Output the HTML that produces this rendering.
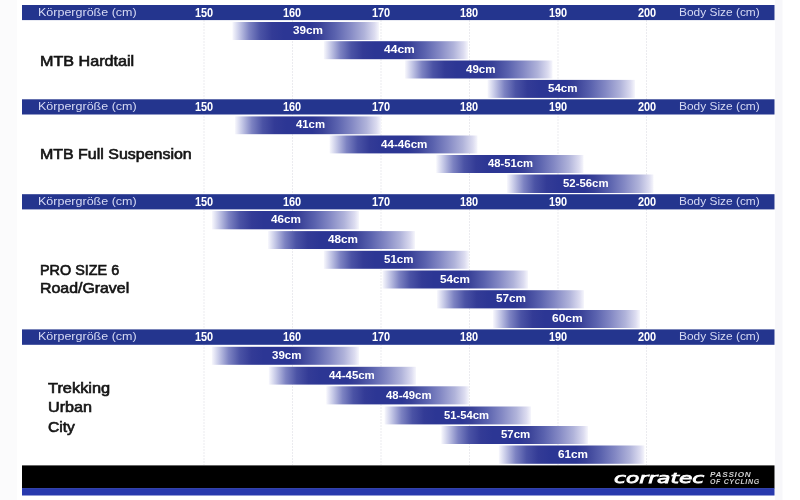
<!DOCTYPE html>
<html lang="de"><head><meta charset="utf-8"><title>corratec Body Size</title>
<style>
html,body{margin:0;padding:0;background:#fff}
body{width:800px;height:500px;position:relative;overflow:hidden;font-family:"Liberation Sans",sans-serif}
.a{position:absolute}
.ht{color:#d6daf4;font-size:11.6px;line-height:15px;white-space:nowrap;transform-origin:0 50%}
.hn{color:#fff;font-weight:bold;font-size:12px;line-height:15px;width:40px;text-align:center;white-space:nowrap;transform:scaleX(.91)}
.bt{color:#fff;font-weight:bold;font-size:11.6px;line-height:18px;white-space:nowrap;transform-origin:0 50%}
.lb{color:#151515;font-size:15px;line-height:18px;white-space:nowrap;transform-origin:0 100%;-webkit-text-stroke:.65px #151515}
.logo{color:#fff;font-family:"DejaVu Sans","Liberation Sans",sans-serif;font-weight:normal;font-style:italic;-webkit-text-stroke:.75px #fff;white-space:nowrap;transform-origin:0 100%}
.pas{color:#cfcfcf;font-style:italic;font-weight:bold;white-space:nowrap;transform-origin:0 100%;font-size:6.5px;line-height:7px;letter-spacing:.6px}
</style></head><body>
<svg class="a" style="left:0;top:0" width="800" height="500" viewBox="0 0 800 500">
<defs><linearGradient id="g" x1="0" y1="0" x2="1" y2="0"><stop offset="0" stop-color="#f8f8fd"/><stop offset="0.045" stop-color="#c8cbe8"/><stop offset="0.115" stop-color="#7d83c2"/><stop offset="0.19" stop-color="#4b53a5"/><stop offset="0.27" stop-color="#333b96"/><stop offset="0.35" stop-color="#2c3694"/><stop offset="0.53" stop-color="#2c3694"/><stop offset="0.6" stop-color="#3a4298"/><stop offset="0.7" stop-color="#5a62ae"/><stop offset="0.8" stop-color="#8388c4"/><stop offset="0.9" stop-color="#b0b3da"/><stop offset="0.97" stop-color="#dcdcf0"/><stop offset="1" stop-color="#f6f6fc"/></linearGradient></defs>
<rect x="0" y="0" width="17" height="500" fill="#fbfbfc"/><rect x="775" y="0" width="7.5" height="500" fill="#f7f7fa"/>
<line x1="204.0" y1="20.5" x2="204.0" y2="465" stroke="#d6d6de" stroke-width="1" stroke-dasharray="1 2"/>
<line x1="292.5" y1="20.5" x2="292.5" y2="465" stroke="#d6d6de" stroke-width="1" stroke-dasharray="1 2"/>
<line x1="381.0" y1="20.5" x2="381.0" y2="465" stroke="#d6d6de" stroke-width="1" stroke-dasharray="1 2"/>
<line x1="469.5" y1="20.5" x2="469.5" y2="465" stroke="#d6d6de" stroke-width="1" stroke-dasharray="1 2"/>
<line x1="558.0" y1="20.5" x2="558.0" y2="465" stroke="#d6d6de" stroke-width="1" stroke-dasharray="1 2"/>
<line x1="646.5" y1="20.5" x2="646.5" y2="465" stroke="#d6d6de" stroke-width="1" stroke-dasharray="1 2"/>
<rect x="232.4" y="22.0" width="146.6" height="18.0" fill="url(#g)"/>
<rect x="323.8" y="41.2" width="144.2" height="18.0" fill="url(#g)"/>
<rect x="405.0" y="60.5" width="147.5" height="18.0" fill="url(#g)"/>
<rect x="487.5" y="79.9" width="147.5" height="18.0" fill="url(#g)"/>
<rect x="235.0" y="116.4" width="146.0" height="17.8" fill="url(#g)"/>
<rect x="329.5" y="135.5" width="148.0" height="17.9" fill="url(#g)"/>
<rect x="436.2" y="155.0" width="147.3" height="18.0" fill="url(#g)"/>
<rect x="507.0" y="174.5" width="146.5" height="18.5" fill="url(#g)"/>
<rect x="212.0" y="211.0" width="147.0" height="18.3" fill="url(#g)"/>
<rect x="268.0" y="231.1" width="147.0" height="17.9" fill="url(#g)"/>
<rect x="323.8" y="250.8" width="145.2" height="18.0" fill="url(#g)"/>
<rect x="382.5" y="270.5" width="145.5" height="18.0" fill="url(#g)"/>
<rect x="437.0" y="290.2" width="147.0" height="18.2" fill="url(#g)"/>
<rect x="493.0" y="310.0" width="147.0" height="18.0" fill="url(#g)"/>
<rect x="211.8" y="346.8" width="147.2" height="18.0" fill="url(#g)"/>
<rect x="268.8" y="366.8" width="147.2" height="17.8" fill="url(#g)"/>
<rect x="326.2" y="386.3" width="142.8" height="18.1" fill="url(#g)"/>
<rect x="384.5" y="406.5" width="146.5" height="17.9" fill="url(#g)"/>
<rect x="441.2" y="426.0" width="146.8" height="18.0" fill="url(#g)"/>
<rect x="498.8" y="445.5" width="145.7" height="18.3" fill="url(#g)"/>
<rect x="22" y="5.0" width="752.5" height="15.1" fill="#24358e"/>
<rect x="22" y="99.3" width="752.5" height="15.2" fill="#24358e"/>
<rect x="22" y="194.2" width="752.5" height="15.2" fill="#24358e"/>
<rect x="22" y="329.4" width="752.5" height="15.4" fill="#24358e"/>
<rect x="22" y="465.4" width="752.5" height="23" fill="#000"/>
<rect x="22" y="488.1" width="752.5" height="7.4" fill="#2839ad"/>
</svg>
<div class="a bt" id="bt0" style="left:292.50px;top:21.1px;transform:scaleX(1.012)">39cm</div>
<div class="a bt" id="bt1" style="left:383.60px;top:40.3px;transform:scaleX(1.039)">44cm</div>
<div class="a bt" id="bt2" style="left:465.50px;top:59.6px;transform:scaleX(0.995)">49cm</div>
<div class="a bt" id="bt3" style="left:547.50px;top:79.0px;transform:scaleX(0.995)">54cm</div>
<div class="a bt" id="bt4" style="left:295.50px;top:115.4px;transform:scaleX(0.978)">41cm</div>
<div class="a bt" id="bt5" style="left:381.00px;top:134.5px">44-46cm</div>
<div class="a bt" id="bt6" style="left:488.00px;top:154.1px;transform:scaleX(0.969)">48-51cm</div>
<div class="a bt" id="bt7" style="left:562.50px;top:173.8px;transform:scaleX(0.980)">52-56cm</div>
<div class="a bt" id="bt8" style="left:271.25px;top:210.2px;transform:scaleX(1.012)">46cm</div>
<div class="a bt" id="bt9" style="left:327.50px;top:230.2px;transform:scaleX(1.012)">48cm</div>
<div class="a bt" id="bt10" style="left:383.75px;top:249.9px;transform:scaleX(0.993)">51cm</div>
<div class="a bt" id="bt11" style="left:440.00px;top:269.6px;transform:scaleX(1.012)">54cm</div>
<div class="a bt" id="bt12" style="left:495.75px;top:289.4px;transform:scaleX(1.012)">57cm</div>
<div class="a bt" id="bt13" style="left:551.75px;top:309.1px;transform:scaleX(1.037)">60cm</div>
<div class="a bt" id="bt14" style="left:271.75px;top:345.9px;transform:scaleX(0.995)">39cm</div>
<div class="a bt" id="bt15" style="left:328.75px;top:365.8px;transform:scaleX(0.986)">44-45cm</div>
<div class="a bt" id="bt16" style="left:385.50px;top:385.5px;transform:scaleX(0.980)">48-49cm</div>
<div class="a bt" id="bt17" style="left:443.75px;top:405.6px;transform:scaleX(0.969)">51-54cm</div>
<div class="a bt" id="bt18" style="left:501.25px;top:425.1px;transform:scaleX(0.986)">57cm</div>
<div class="a bt" id="bt19" style="left:558.00px;top:444.8px;transform:scaleX(1.012)">61cm</div>
<div class="a ht" id="kg_0" style="left:38.00px;top:3.5px;transform:scaleX(1.078)">Körpergröße (cm)</div>
<div class="a ht" id="bs_0" style="left:678.80px;top:3.5px;transform:scaleX(1.027)">Body Size (cm)</div>
<div class="a hn" style="left:184.2px;top:6.0px">150</div>
<div class="a hn" style="left:271.7px;top:6.0px">160</div>
<div class="a hn" style="left:360.7px;top:6.0px">170</div>
<div class="a hn" style="left:449.2px;top:6.0px">180</div>
<div class="a hn" style="left:537.9px;top:6.0px">190</div>
<div class="a hn" style="left:626.5px;top:6.0px">200</div>
<div class="a ht" id="kg_1" style="left:38.00px;top:97.8px;transform:scaleX(1.078)">Körpergröße (cm)</div>
<div class="a ht" id="bs_1" style="left:678.80px;top:97.8px;transform:scaleX(1.027)">Body Size (cm)</div>
<div class="a hn" style="left:184.2px;top:100.3px">150</div>
<div class="a hn" style="left:271.7px;top:100.3px">160</div>
<div class="a hn" style="left:360.7px;top:100.3px">170</div>
<div class="a hn" style="left:449.2px;top:100.3px">180</div>
<div class="a hn" style="left:537.9px;top:100.3px">190</div>
<div class="a hn" style="left:626.5px;top:100.3px">200</div>
<div class="a ht" id="kg_2" style="left:38.00px;top:192.7px;transform:scaleX(1.078)">Körpergröße (cm)</div>
<div class="a ht" id="bs_2" style="left:678.80px;top:192.7px;transform:scaleX(1.027)">Body Size (cm)</div>
<div class="a hn" style="left:184.2px;top:195.2px">150</div>
<div class="a hn" style="left:271.7px;top:195.2px">160</div>
<div class="a hn" style="left:360.7px;top:195.2px">170</div>
<div class="a hn" style="left:449.2px;top:195.2px">180</div>
<div class="a hn" style="left:537.9px;top:195.2px">190</div>
<div class="a hn" style="left:626.5px;top:195.2px">200</div>
<div class="a ht" id="kg_3" style="left:38.00px;top:327.9px;transform:scaleX(1.078)">Körpergröße (cm)</div>
<div class="a ht" id="bs_3" style="left:678.80px;top:327.9px;transform:scaleX(1.027)">Body Size (cm)</div>
<div class="a hn" style="left:184.2px;top:330.4px">150</div>
<div class="a hn" style="left:271.7px;top:330.4px">160</div>
<div class="a hn" style="left:360.7px;top:330.4px">170</div>
<div class="a hn" style="left:449.2px;top:330.4px">180</div>
<div class="a hn" style="left:537.9px;top:330.4px">190</div>
<div class="a hn" style="left:626.5px;top:330.4px">200</div>
<div class="a lb" id="lb0" style="left:39.60px;top:51.6px;transform:scaleX(1.076)">MTB Hardtail</div>
<div class="a lb" id="lb1" style="left:39.60px;top:144.9px;transform:scaleX(1.064)">MTB Full Suspension</div>
<div class="a lb" id="lb2" style="left:39.60px;top:260.9px;transform:scaleX(0.960)">PRO SIZE 6</div>
<div class="a lb" id="lb3" style="left:39.60px;top:278.7px;transform:scaleX(1.059)">Road/Gravel</div>
<div class="a lb" id="lb4" style="left:48.00px;top:378.5px;transform:scaleX(1.092)">Trekking</div>
<div class="a lb" id="lb5" style="left:47.50px;top:398.0px;transform:scaleX(1.077)">Urban</div>
<div class="a lb" id="lb6" style="left:48.30px;top:418.0px;transform:scaleX(1.037)">City</div>
<div class="a logo" id="logo" style="left:613.75px;top:467.5px;font-size:14.2px;line-height:20px;transform:scaleX(1.531)">corratec</div>
<div class="a pas" id="p1" style="left:710.40px;top:470.8px;transform:scaleX(1.255)">PASSION</div>
<div class="a pas" id="p2" style="left:710.20px;top:478.0px;transform:scaleX(1.080)">OF CYCLING</div>
</body></html>
